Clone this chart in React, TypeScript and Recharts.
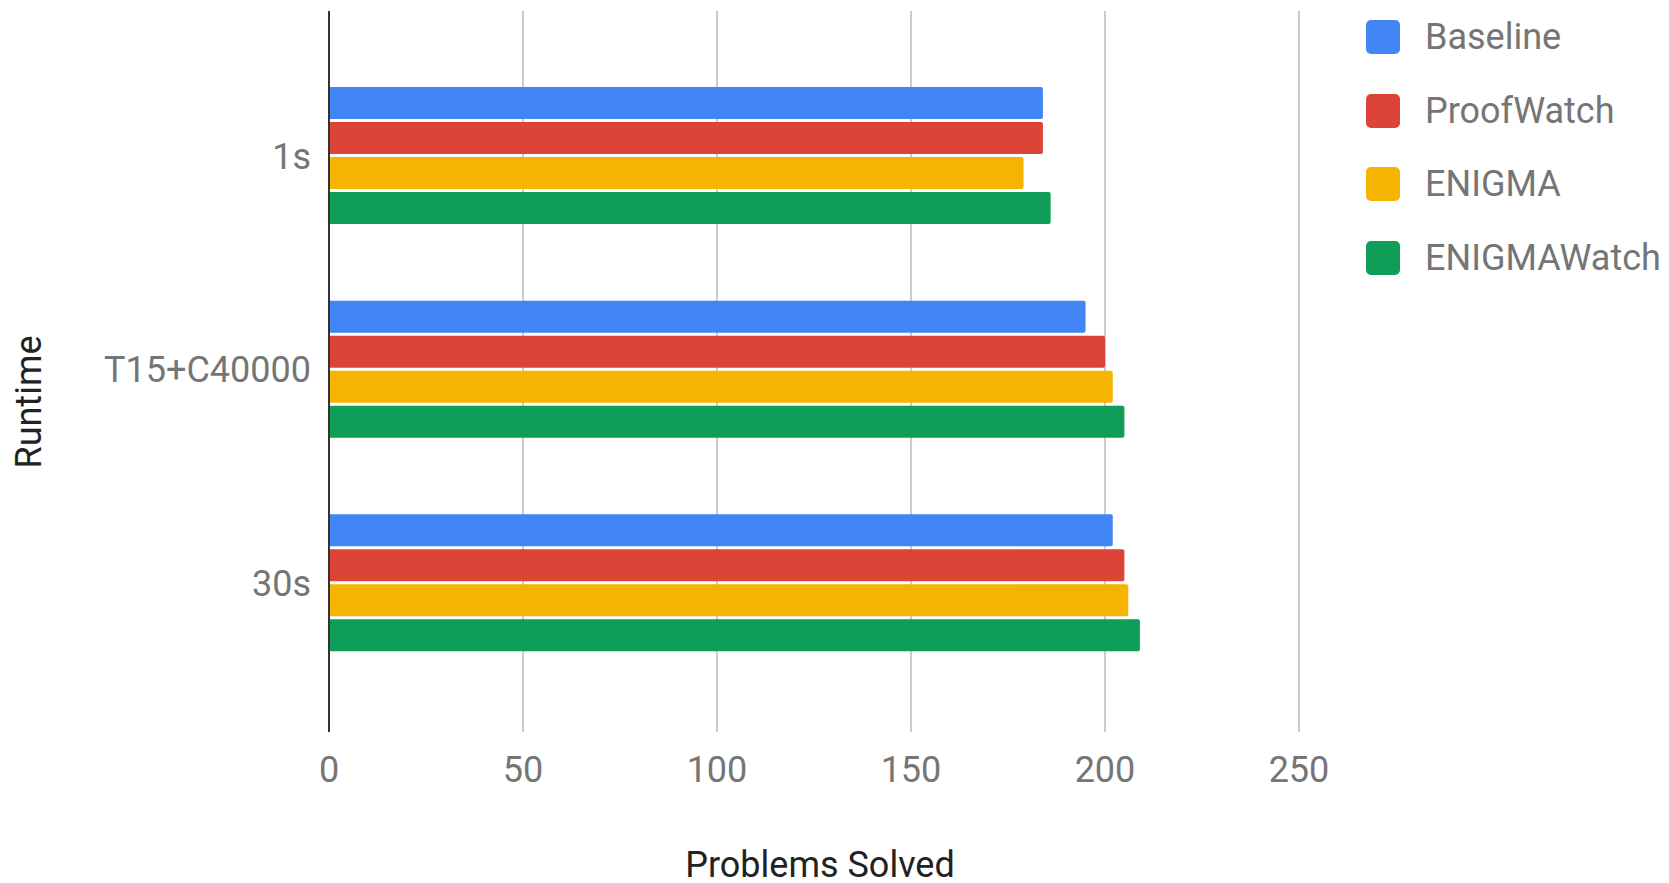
import { Bar, BarChart, CartesianGrid, Legend, XAxis, YAxis } from "recharts"

const categories = ["1s", "T15+C40000", "30s"]
const baseline = [184, 195, 202]
const proofWatch = [184, 200, 205]
const enigma = [179, 202, 206]
const enigmaWatch = [186, 205, 209]
const xTicks = [0, 50, 100, 150, 200, 250]

const series = [
  { key: "baseline", name: "Baseline", color: "#4285F4", values: baseline },
  { key: "proofWatch", name: "ProofWatch", color: "#DB4437", values: proofWatch },
  { key: "enigma", name: "ENIGMA", color: "#F4B400", values: enigma },
  { key: "enigmaWatch", name: "ENIGMAWatch", color: "#0F9D58", values: enigmaWatch },
]

const data = categories.map((name, i) => {
  const row: Record<string, string | number> = { name }
  series.forEach((s) => {
    row[s.key] = s.values[i]
  })
  return row
})

const tickStyle = { fill: "#757575", fontSize: 36 }

function LegendBox() {
  return (
    <div style={{ marginTop: 0 }}>
      {series.map((s) => (
        <div key={s.key} style={{ display: "flex", alignItems: "center", height: 73.8 }}>
          <span
            style={{
              width: 34,
              height: 34,
              borderRadius: 5,
              background: s.color,
              display: "inline-block",
            }}
          />
          <span style={{ marginLeft: 25, fontSize: 36, color: "#757575" }}>{s.name}</span>
        </div>
      ))}
    </div>
  )
}

export default function App() {
  return (
    <div style={{ position: "absolute", left: 0, top: 0, fontFamily: "Roboto", background: "#fff" }}>
      <BarChart
        width={1669}
        height={883}
        data={data}
        layout="vertical"
        barSize={32}
        barGap={3}
        margin={{ top: 11, right: 70, bottom: 0, left: 0 }}
      >
        <CartesianGrid horizontal={false} stroke="#cccccc" strokeWidth={2} />
        <XAxis
          type="number"
          domain={[0, 250]}
          ticks={xTicks}
          height={151}
          axisLine={false}
          tickLine={false}
          tickSize={0}
          tickMargin={24}
          tick={tickStyle}
          label={{
            content: () => (
              <text x={820} y={877} textAnchor="middle" fontSize={36} fill="#222222">
                Problems Solved
              </text>
            ),
          }}
        />
        <YAxis
          type="category"
          dataKey="name"
          width={329}
          padding={{ top: 38, bottom: 42 }}
          axisLine={{ stroke: "#333333", strokeWidth: 2 }}
          tickLine={false}
          tickSize={0}
          tickMargin={18}
          tick={tickStyle}
          label={{
            content: () => (
              <text
                x={41}
                y={402}
                textAnchor="middle"
                fontSize={36}
                fill="#222222"
                transform="rotate(-90, 41, 402)"
              >
                Runtime
              </text>
            ),
          }}
        />
        <Legend
          layout="vertical"
          align="right"
          verticalAlign="top"
          wrapperStyle={{ top: 0, left: 1366, width: 300 }}
          content={() => <LegendBox />}
        />
        {series.map((s) => (
          <Bar
            key={s.key}
            dataKey={s.key}
            name={s.name}
            fill={s.color}
            radius={[0, 2, 2, 0]}
            isAnimationActive={false}
          />
        ))}
      </BarChart>
    </div>
  )
}
